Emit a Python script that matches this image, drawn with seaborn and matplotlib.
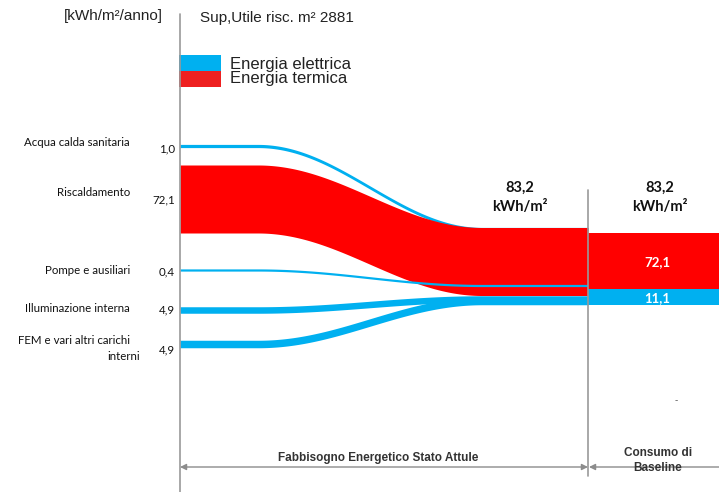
import numpy as np
import matplotlib
matplotlib.use("Agg")
import matplotlib.pyplot as plt
import seaborn as sns

# data (kWh/m2/anno)
flow_names = ["Acqua calda sanitaria", "Riscaldamento", "Pompe e ausiliari",
              "Illuminazione interna", "FEM e vari altri carichi\ninterni"]
flow_values = [1.0, 72.1, 0.4, 4.9, 4.9]
flow_kind = ["el", "th", "el", "el", "el"]
total_attuale = 83.2
baseline_kinds = ["th", "el"]
baseline_values = [72.1, 11.1]
total_baseline = 83.2
surface_m2 = 2881

COLORS = {"el": "#00B0F0", "th": "#FF0000"}

# layout (pixel space, y downwards)
X0, X_MID, X_END = 180, 588, 719
CURVE_A, CURVE_B = 258, 482
left_centers = [146, 199, 270, 310, 344]
right_centers = [229, 261.5, 285.5, 299, 301]
thickness = [3.2, 68, 2.2, 6.5, 7.5]
baseline_top = 233
baseline_px = [56, 16]


def fmt(v):
    return f"{v:.1f}".replace(".", ",")


def band(ax, y_start, y_end, w, color):
    x = np.linspace(X0, X_MID, 400)
    t = np.clip((x - CURVE_A) / (CURVE_B - CURVE_A), 0, 1)
    s = (1 - np.cos(np.pi * t)) / 2
    yc = y_start + (y_end - y_start) * s
    ax.fill_between(x, yc - w / 2, yc + w / 2, color=color, lw=0)


sns.set_theme(style="white")
plt.rcParams['font.family'] = ['Liberation Sans', 'DejaVu Sans']
CAL = ["Lato", "DejaVu Sans"]

fig = plt.figure(figsize=(7.19, 4.92), dpi=100)
ax = fig.add_axes([0, 0, 1, 1])
ax.set_xlim(0, 719)
ax.set_ylim(492, 0)
ax.axis("off")

# flows
for i in range(len(flow_values)):
    band(ax, left_centers[i], right_centers[i], thickness[i], COLORS[flow_kind[i]])

# baseline stacked bar
bottom = baseline_top
for k, v, h in zip(baseline_kinds, baseline_values, baseline_px):
    ax.bar(X_MID + (X_END - X_MID) / 2, h, width=X_END - X_MID, bottom=bottom,
           color=COLORS[k], linewidth=0)
    ax.text(657, bottom + h / 2 + 1, fmt(v), ha="center", va="center", color="white",
            fontsize=9.5, fontweight="bold", family=CAL)
    bottom += h

# vertical guide lines
ax.plot([X0, X0], [14, 492], color="#999999", lw=1.2)
ax.plot([X_MID, X_MID], [190, 476], color="#999999", lw=1.2)

# bottom dimension arrows
ax.annotate("", xy=(X0, 467), xytext=(X_MID, 467),
            arrowprops=dict(arrowstyle="<|-|>", color="#8c8c8c", lw=1.0,
                            mutation_scale=9, shrinkA=0, shrinkB=0))
ax.annotate("", xy=(X_MID + 1, 467), xytext=(X_END + 5, 467),
            arrowprops=dict(arrowstyle="-|>", color="#8c8c8c", lw=1.0,
                            mutation_scale=9, shrinkA=0, shrinkB=0))
ax.text(378, 458, "Fabbisogno Energetico Stato Attule", ha="center", va="center",
        fontsize=8.5, fontweight="bold", color="#333333")
ax.text(658, 453, "Consumo di", ha="center", va="center",
        fontsize=8.5, fontweight="bold", color="#333333")
ax.text(658, 468, "Baseline", ha="center", va="center",
        fontsize=8.5, fontweight="bold", color="#333333")

# header
ax.text(163, 16, "[kWh/m²/anno]", ha="right", va="center", fontsize=11, color="#222222")
ax.text(200, 18, f"Sup,Utile risc. m² {surface_m2}", ha="left", va="center",
        fontsize=11, color="#222222")

# legend
ax.bar(200, 16, width=42, bottom=55, color="#00B0F0", linewidth=0)
ax.bar(200, 16, width=42, bottom=71, color="#EE2020", linewidth=0)
ax.text(230, 64, "Energia elettrica", ha="left", va="center", fontsize=12, color="#222222")
ax.text(230, 79, "Energia termica", ha="left", va="center", fontsize=12, color="#222222")

# left labels and values
label_y = [143, 192, 270, 308, 340]
value_y = [149, 200, 272, 310, 350]
for name, v, ly, vy in zip(flow_names, flow_values, label_y, value_y):
    for j, line in enumerate(name.split("\n")):
        ax.text(130 if j == 0 else 140, ly + 17 * j, line, ha="right", va="center",
                fontsize=8.3, color="#111111", family=CAL)
    ax.text(175, vy, fmt(v), ha="right", va="center", fontsize=8.3,
            color="#111111", family=CAL)

# totals
for xc, tot in [(520, total_attuale), (660, total_baseline)]:
    ax.text(xc, 188, fmt(tot), ha="center", va="center", fontsize=10.5,
            fontweight="bold", color="#111111", family=CAL)
    ax.text(xc, 207, "kWh/m²", ha="center", va="center", fontsize=10.5,
            fontweight="bold", color="#111111", family=CAL)

ax.text(676, 400, "-", ha="center", va="center", fontsize=7, color="#555555")

fig.savefig("out.png", dpi=100)
